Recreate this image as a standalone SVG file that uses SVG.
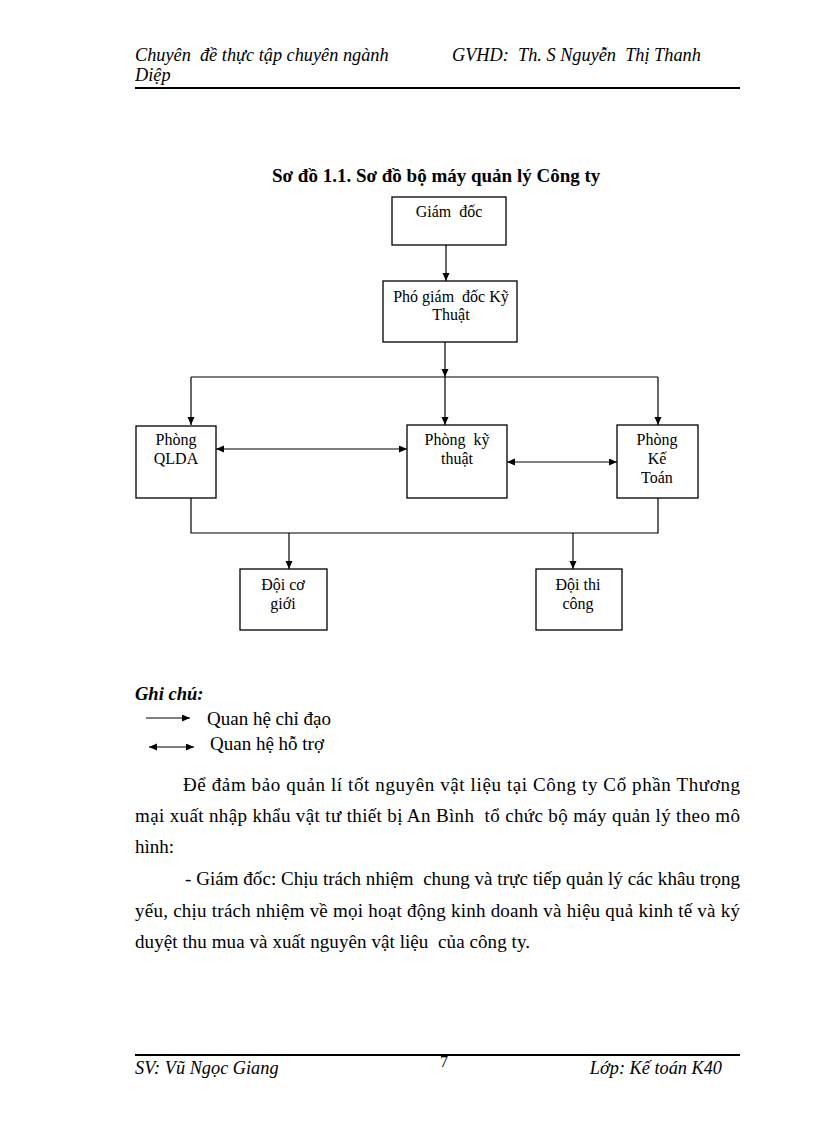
<svg xmlns="http://www.w3.org/2000/svg" width="816" height="1123" viewBox="0 0 816 1123">
<defs>
<marker id="ah" markerUnits="userSpaceOnUse" markerWidth="9" markerHeight="8" refX="8" refY="3.5" orient="auto-start-reverse">
<path d="M0,0 L8,3.5 L0,7 z" fill="#000"/>
</marker>
<style>
text{font-family:"Liberation Serif","Times New Roman",serif;fill:#000;white-space:pre}
.hdr{font-size:18.3px;font-style:italic}
.ttl{font-size:19px;font-weight:bold}
.box rect{fill:#fff;stroke:#000;stroke-width:1.3}
.box text{font-size:16px;text-anchor:middle}
.ln{fill:none;stroke:#000;stroke-width:1.2}
.ar{marker-end:url(#ah)}
.ar2{marker-start:url(#ah);marker-end:url(#ah)}
.p{font-size:19px}
.rule{stroke:#000;stroke-width:2.2}
</style>
</defs>
<rect width="816" height="1123" fill="#fff"/>
<g id="header">
<text class="hdr" x="135" y="61">Chuyên  đề thực tập chuyên ngành</text>
<text class="hdr" x="452" y="61">GVHD:  Th. S Nguyễn  Thị Thanh</text>
<text class="hdr" x="135" y="81">Diệp</text>
<line class="rule" x1="135" y1="88" x2="740" y2="88"/>
</g>
<text class="ttl" x="272" y="182">Sơ đồ 1.1. Sơ đồ bộ máy quản lý Công ty</text>
<g id="connectors">
<path class="ln ar" d="M446,245 V281"/>
<path class="ln ar" d="M445,342 V377"/>
<path class="ln" d="M191,377 H658"/>
<path class="ln ar" d="M191,377 V425"/>
<path class="ln ar" d="M445,377 V425"/>
<path class="ln ar" d="M658,377 V425"/>
<path class="ln ar2" d="M216,449 H407"/>
<path class="ln ar2" d="M507,462 H617"/>
<path class="ln" d="M191,498 V533 H658 V498"/>
<path class="ln ar" d="M289,533 V569"/>
<path class="ln ar" d="M573,533 V569"/>
</g>
<g id="giam-doc" class="box">
<rect x="392" y="197" width="114" height="48"/>
<text x="449" y="217">Giám  đốc</text>
</g>
<g id="pho-giam-doc" class="box">
<rect x="383" y="281" width="134" height="61"/>
<text x="451" y="302">Phó giám  đốc Kỹ</text>
<text x="451" y="320">Thuật</text>
</g>
<g id="phong-qlda" class="box">
<rect x="136" y="426" width="80" height="72"/>
<text x="176" y="445">Phòng</text>
<text x="176" y="464">QLDA</text>
</g>
<g id="phong-ky-thuat" class="box">
<rect x="407" y="425" width="100" height="73"/>
<text x="457" y="445">Phòng  kỹ</text>
<text x="457" y="464">thuật</text>
</g>
<g id="phong-ke-toan" class="box">
<rect x="617" y="425" width="81" height="73"/>
<text x="657" y="445">Phòng</text>
<text x="657" y="464">Kế</text>
<text x="657" y="483">Toán</text>
</g>
<g id="doi-co-gioi" class="box">
<rect x="240" y="569" width="87" height="61"/>
<text x="283" y="590">Đội cơ</text>
<text x="283" y="609">giới</text>
</g>
<g id="doi-thi-cong" class="box">
<rect x="536" y="569" width="86" height="61"/>
<text x="578" y="590">Đội thi</text>
<text x="578" y="609">công</text>
</g>
<g id="legend">
<text x="135" y="700" style="font-size:18.5px;font-weight:bold;font-style:italic">Ghi chú:</text>
<path class="ln ar" d="M146,718 H190"/>
<text class="p" x="207" y="725">Quan hệ chỉ đạo</text>
<path class="ln ar2" d="M149,747 H194"/>
<text class="p" x="210" y="750">Quan hệ hỗ trợ</text>
</g>
<g id="body">
<text class="p" x="183" y="791" textLength="557" lengthAdjust="spacing">Để đảm bảo quản lí tốt nguyên vật liệu tại Công ty Cổ phần Thương</text>
<text class="p" x="135" y="822" textLength="605" lengthAdjust="spacing">mại xuất nhập khẩu vật tư thiết bị An Bình  tổ chức bộ máy quản lý theo mô</text>
<text class="p" x="135" y="853">hình:</text>
<text class="p" x="185" y="885" textLength="555" lengthAdjust="spacing">- Giám đốc: Chịu trách nhiệm  chung và trực tiếp quản lý các khâu trọng</text>
<text class="p" x="135" y="917" textLength="605" lengthAdjust="spacing">yếu, chịu trách nhiệm về mọi hoạt động kinh doanh và hiệu quả kinh tế và ký</text>
<text class="p" x="135" y="948" textLength="395" lengthAdjust="spacing">duyệt thu mua và xuất nguyên vật liệu  của công ty.</text>
</g>
<g id="footer">
<line class="rule" x1="135" y1="1055" x2="740" y2="1055"/>
<text class="hdr" x="135" y="1074">SV: Vũ Ngọc Giang</text>
<text x="440" y="1067" style="font-size:16px">7</text>
<text class="hdr" x="722" y="1074" text-anchor="end">Lớp: Kế toán K40</text>
</g>
</svg>
